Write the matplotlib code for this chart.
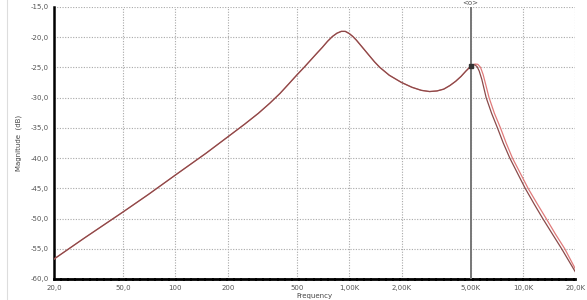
import matplotlib.pyplot as plt
import matplotlib.lines as mlines

# frequency response
freq_a = [20, 30, 50, 70, 100, 150, 200, 250, 300, 350, 400, 450, 500, 550, 600,
          650, 700, 750, 800, 850, 900, 950, 1000, 1050, 1100, 1200, 1300, 1400,
          1500, 1700, 2000, 2300, 2600, 2900, 3200, 3500, 3800, 4100, 4400, 4700,
          5000, 5150, 5300, 5450, 5600, 5800, 6140, 6600, 7130, 7700, 8400, 9300,
          10300, 11600, 13000, 14800, 16700, 20000]
mag_a = [-56.7, -53.2, -48.9, -46.0, -42.8, -39.2, -36.5, -34.4, -32.6, -30.9,
         -29.3, -27.7, -26.25, -25.0, -23.8, -22.7, -21.7, -20.7, -19.9, -19.35,
         -19.05, -19.05, -19.4, -19.9, -20.5, -21.8, -23.0, -24.1, -25.0, -26.3,
         -27.5, -28.3, -28.8, -29.0, -28.9, -28.6, -28.0, -27.3, -26.5, -25.6,
         -24.85, -24.6, -24.6, -24.9, -25.6, -27.0, -30.0, -32.6, -35.0, -37.5,
         -40.0, -42.5, -45.0, -47.6, -50.0, -52.6, -55.0, -58.8]

freq_b = [20, 30, 50, 70, 100, 150, 200, 250, 300, 350, 400, 450, 500, 550, 600,
          650, 700, 750, 800, 850, 900, 950, 1000, 1050, 1100, 1200, 1300, 1400,
          1500, 1700, 2000, 2300, 2600, 2900, 3200, 3500, 3800, 4100, 4400, 4700,
          5000, 5150, 5300, 5500, 5700, 5900, 6100, 6380, 6850, 7420, 8000, 8700,
          9650, 10700, 12100, 13600, 15400, 17400, 20000]
mag_b = [-56.7, -53.2, -48.9, -46.0, -42.8, -39.2, -36.5, -34.4, -32.6, -30.9,
         -29.3, -27.7, -26.25, -25.0, -23.8, -22.7, -21.7, -20.7, -19.9, -19.35,
         -19.05, -19.05, -19.4, -19.9, -20.5, -21.8, -23.0, -24.1, -25.0, -26.3,
         -27.5, -28.3, -28.8, -29.0, -28.9, -28.6, -28.0, -27.3, -26.5, -25.6,
         -24.8, -24.55, -24.45, -24.5, -25.0, -26.2, -27.8, -30.0, -32.6, -35.0,
         -37.5, -40.0, -42.5, -45.0, -47.6, -50.0, -52.6, -55.0, -58.3]

x_ticks = [20, 50, 100, 200, 500, 1000, 2000, 5000, 10000, 20000]
x_labels = ["20,0", "50,0", "100", "200", "500", "1,00K", "2,00K", "5,00K", "10,0K", "20,0K"]
y_ticks = [-60, -55, -50, -45, -40, -35, -30, -25, -20, -15]
y_labels = ["-60,0", "-55,0", "-50,0", "-45,0", "-40,0", "-35,0", "-30,0", "-25,0", "-20,0", "-15,0"]

cursor_f = 5000
cursor_mag = -24.8

fig = plt.figure(figsize=(5.87, 3.0), dpi=100)
ax = fig.add_axes([0.092, 0.07, 0.888, 0.907])

ax.plot(freq_b, mag_b, color='#e07a7a', lw=0.9, zorder=3)
ax.plot(freq_a, mag_a, color='#8a4a4a', lw=0.9, zorder=4)

ax.set_xscale('log')
ax.set_xlim(20, 20000)
ax.set_ylim(-60, -15)
ax.set_xticks(x_ticks)
ax.set_xticklabels(x_labels)
ax.set_yticks(y_ticks)
ax.set_yticklabels(y_labels)
ax.minorticks_off()
ax.tick_params(length=0, labelsize=5, labelcolor='#555555', pad=4)

ax.grid(True, ls=(0, (1, 1.4)), color='#a8a8a8', lw=0.8)
for s in ['top', 'right']:
    ax.spines[s].set_visible(False)
ax.spines['left'].set_linewidth(1.8)
ax.spines['left'].set_color('black')
ax.spines['bottom'].set_linewidth(2.0)
ax.spines['bottom'].set_linestyle((0, (2, 0.6)))
ax.spines['bottom'].set_color('black')

# cursor
ax.axvline(cursor_f, color='#777777', lw=1.4, zorder=5)
ax.plot([cursor_f], [cursor_mag], marker='s', ms=3, color='#333333', zorder=6)
ax.text(cursor_f, -14.85, "<o>", ha='center', va='bottom', fontsize=5, color='#555555')

ax.set_xlabel("Frequency", fontsize=5, color='#444444', labelpad=2)
ax.set_ylabel("Magnitude  (dB)", fontsize=5, color='#444444', labelpad=6)

# faint frame of the screenshot
fig.add_artist(mlines.Line2D([0.012, 0.012], [0.0, 1.0], color='#dddddd', lw=0.8))

fig.savefig("out.png", dpi=100)
